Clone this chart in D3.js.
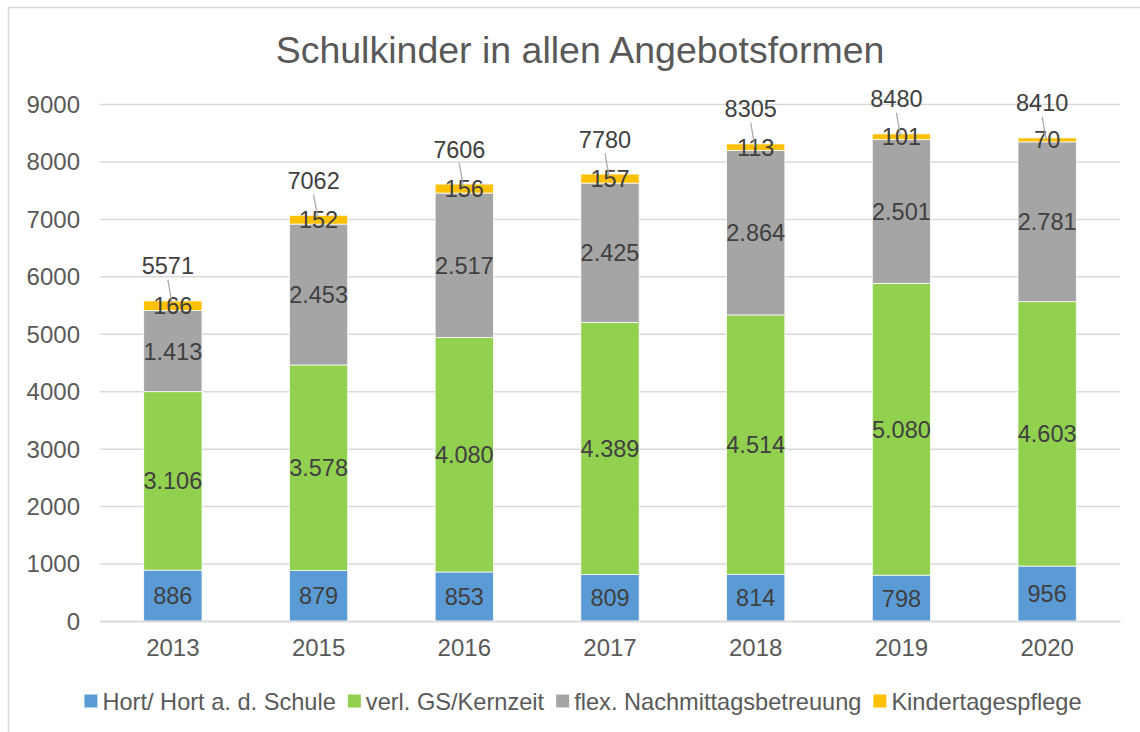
<!DOCTYPE html>
<html>
<head>
<meta charset="utf-8">
<script src="https://cdn.jsdelivr.net/npm/d3@7"></script>
<style>
  html, body { margin: 0; padding: 0; background: #fff; }
  svg { display: block; }
  text { font-family: "Liberation Sans", Arial, sans-serif; }
</style>
</head>
<body>
<svg id="chart" width="1140" height="732"></svg>
<script>
// ---- Data ----
const years = ["2013", "2015", "2016", "2017", "2018", "2019", "2020"];
const hort = [886, 879, 853, 809, 814, 798, 956];
const kernzeit = [3106, 3578, 4080, 4389, 4514, 5080, 4603];
const flex = [1413, 2453, 2517, 2425, 2864, 2501, 2781];
const kindertagespflege = [166, 152, 156, 157, 113, 101, 70];
const totals = [5571, 7062, 7606, 7780, 8305, 8480, 8410];
const seriesNames = ["Hort/ Hort a. d. Schule", "verl. GS/Kernzeit", "flex. Nachmittagsbetreuung", "Kindertagespflege"];
const yTicks = [0, 1000, 2000, 3000, 4000, 5000, 6000, 7000, 8000, 9000];
const title = "Schulkinder in allen Angebotsformen";

// ---- Styles ----
const colors = ["#5B9BD5", "#92D050", "#A5A5A5", "#FFC000"];
const seriesValues = [hort, kernzeit, flex, kindertagespflege];

const svg = d3.select("#chart");
const W = 1140, H = 732;
const plot = { left: 100, right: 1120, top: 104, bottom: 621 };

// frame
svg.append("path")
  .attr("d", `M8.5,${H} V7.5 H${W}`)
  .attr("fill", "none").attr("stroke", "#d9d9d9").attr("stroke-width", 1.5);

const x = d3.scaleBand().domain(years).range([plot.left, plot.right]).paddingInner(0.6).paddingOuter(0.3);
const y = d3.scaleLinear().domain([0, 9000]).range([plot.bottom, plot.top]);

const de = d3.formatLocale({ decimal: ",", thousands: ".", grouping: [3], currency: ["", "€"] });
const fmt = de.format(",d");

// title
svg.append("text")
  .attr("x", 580).attr("y", 63)
  .attr("text-anchor", "middle")
  .attr("font-size", 37.5).attr("fill", "#595959")
  .text(title);

// gridlines + y axis
const yAxis = d3.axisLeft(y).tickValues(yTicks).tickSize(-(plot.right - plot.left)).tickPadding(20).tickFormat(d3.format("d"));
const gy = svg.append("g").attr("transform", `translate(${plot.left},0)`).call(yAxis);
gy.select(".domain").remove();
gy.selectAll(".tick line").attr("stroke", "#d9d9d9").attr("stroke-width", 1.5);
gy.selectAll(".tick text").attr("font-size", 24).attr("fill", "#595959")
  .attr("font-family", "Liberation Sans, Arial, sans-serif").attr("dy", "0.35em");

// stacked data
const rows = years.map((yr, i) => {
  const o = { year: yr };
  seriesNames.forEach((s, k) => o[s] = seriesValues[k][i]);
  return o;
});
const stack = d3.stack().keys(seriesNames)(rows);

const layers = svg.append("g").selectAll("g").data(stack).join("g")
  .attr("fill", (d, k) => colors[k]);
layers.selectAll("rect").data(d => d).join("rect")
  .attr("x", d => x(d.data.year))
  .attr("width", x.bandwidth())
  .attr("y", d => y(d[1]))
  .attr("height", d => y(d[0]) - y(d[1]))
  .attr("stroke", "#ffffff").attr("stroke-width", 0.75);

// segment labels
stack.forEach((layer, k) => {
  svg.append("g").selectAll("text").data(layer).join("text")
    .attr("x", d => x(d.data.year) + x.bandwidth() / 2)
    .attr("y", d => (y(d[0]) + y(d[1])) / 2)
    .attr("dy", "0.36em")
    .attr("text-anchor", "middle")
    .attr("font-size", 23.5).attr("fill", "#404040")
    .text(d => fmt(d[1] - d[0]));
});

// total labels with leader lines
const tg = svg.append("g");
years.forEach((yr, i) => {
  const cx = x(yr) + x.bandwidth() / 2;
  const top = y(totals[i]);
  const lx = cx - 5, ly = top - 35;
  tg.append("line")
    .attr("x1", lx).attr("y1", ly + 14)
    .attr("x2", cx - 1).attr("y2", top + 2)
    .attr("stroke", "#a6a6a6").attr("stroke-width", 1.2);
  tg.append("text")
    .attr("x", lx).attr("y", ly).attr("dy", "0.36em")
    .attr("text-anchor", "middle")
    .attr("font-size", 23.5).attr("fill", "#404040")
    .text(totals[i]);
});

// x axis labels
const xAxis = d3.axisBottom(x).tickSize(0).tickPadding(18);
const gx = svg.append("g").attr("transform", `translate(0,${plot.bottom})`).call(xAxis);
gx.select(".domain").attr("stroke", "#d9d9d9").attr("stroke-width", 1.5);
gx.selectAll(".tick text").attr("font-size", 24).attr("fill", "#595959")
  .attr("font-family", "Liberation Sans, Arial, sans-serif");

// legend
const lg = svg.append("g");
let cursor = 0;
seriesNames.forEach((name, k) => {
  const g = lg.append("g");
  g.append("rect").attr("x", 0).attr("y", -6.5).attr("width", 13).attr("height", 13).attr("fill", colors[k]);
  const t = g.append("text").attr("x", 18).attr("y", 0).attr("dy", "0.36em")
    .attr("font-size", 23.6).attr("fill", "#595959").text(name);
  const w = 18 + t.node().getComputedTextLength();
  g.attr("transform", `translate(${cursor},0)`);
  cursor += w + 12;
});
const totalW = cursor - 12;
lg.attr("transform", `translate(${583 - totalW / 2},701)`);
</script>
</body>
</html>
